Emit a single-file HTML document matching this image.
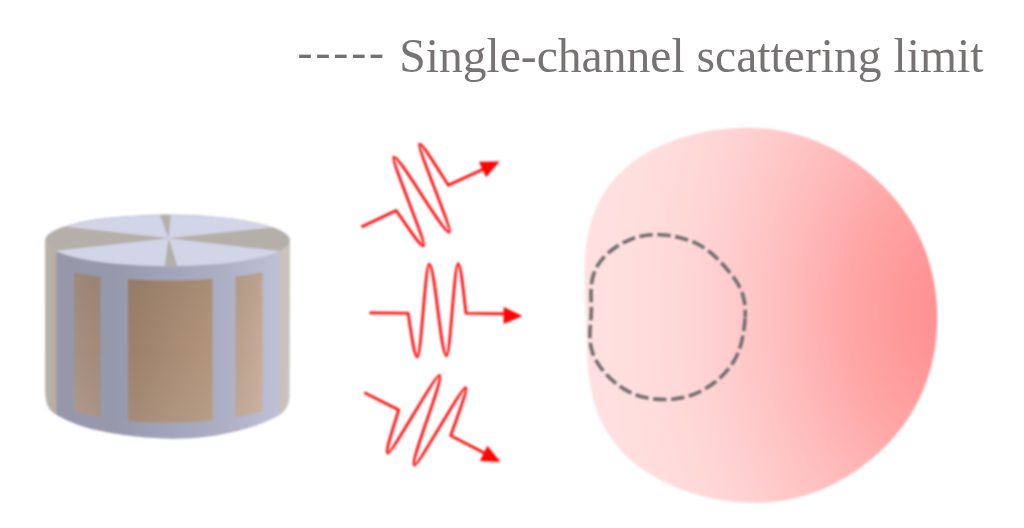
<!DOCTYPE html>
<html lang="en">
<head>
<meta charset="utf-8">
<title>Single-channel scattering limit</title>
<style>
html,body{margin:0;padding:0;background:#fff;}
body{width:1024px;height:528px;position:relative;overflow:hidden;font-family:"Liberation Serif","Times New Roman",serif;}
#fig{position:absolute;left:0;top:0;width:1024px;height:528px;display:block;filter:blur(0.9px);}
#legend{position:absolute;left:0;top:0;width:1024px;height:110px;color:#777373;white-space:nowrap;filter:blur(0.75px);}
#legend .dsh{position:absolute;left:297.5px;top:22.4px;font-size:45px;line-height:60px;letter-spacing:2.9px;color:#727070;}
#legend .txt{position:absolute;left:399.2px;top:25.6px;font-size:47.6px;line-height:60px;}
</style>
</head>
<body>
<svg id="fig" width="1024" height="528" viewBox="0 0 1024 528">
<defs>
<linearGradient id="lav" gradientUnits="userSpaceOnUse" x1="45" y1="0" x2="291" y2="0">
<stop offset="0.045" stop-color="#9698aa"/>
<stop offset="0.28" stop-color="#9699ac"/>
<stop offset="0.508" stop-color="#a2a4b9"/>
<stop offset="0.728" stop-color="#adafc4"/>
<stop offset="0.919" stop-color="#bcbed4"/>
<stop offset="0.976" stop-color="#c0c2d7"/>
</linearGradient>
<linearGradient id="tan" gradientUnits="userSpaceOnUse" x1="45" y1="0" x2="291" y2="0">
<stop offset="0.118" stop-color="#a59082"/>
<stop offset="0.171" stop-color="#a48c7d"/>
<stop offset="0.224" stop-color="#a38979"/>
<stop offset="0.337" stop-color="#9d816b"/>
<stop offset="0.386" stop-color="#9e826c"/>
<stop offset="0.508" stop-color="#a78a72"/>
<stop offset="0.638" stop-color="#af9279"/>
<stop offset="0.679" stop-color="#b1947b"/>
<stop offset="0.776" stop-color="#bba08b"/>
<stop offset="0.829" stop-color="#bfa591"/>
<stop offset="0.882" stop-color="#c5ac99"/>
</linearGradient>
<linearGradient id="stl" x1="0" y1="0" x2="1" y2="0">
<stop offset="0" stop-color="#b9b3ad"/>
<stop offset="0.5" stop-color="#b9afa6"/>
<stop offset="1" stop-color="#baaca2"/>
</linearGradient>
<linearGradient id="str" x1="0" y1="0" x2="1" y2="0">
<stop offset="0" stop-color="#cbc1b4"/>
<stop offset="0.6" stop-color="#cbc3b9"/>
<stop offset="1" stop-color="#cac5bf"/>
</linearGradient>
<linearGradient id="topg" gradientUnits="userSpaceOnUse" x1="45" y1="0" x2="291" y2="0">
<stop offset="0" stop-color="#d2d4e8"/>
<stop offset="1" stop-color="#d2d4e8"/>
</linearGradient>
<clipPath id="sideclip"><path d="M45.3,240 C45.3,250 45.28,280 45.3,300 C45.32,320 45.37,344.67 45.4,360 C45.43,375.33 45.38,385.54 45.5,392 C45.62,398.46 45.6,396.27 46.1,398.75 C46.6,401.23 46.85,404.29 48.5,406.9 C50.15,409.51 51.83,411.72 56,414.4 C60.17,417.08 68.5,420.82 73.5,423 C78.5,425.18 81.83,426.23 86,427.5 C90.17,428.77 94.33,429.68 98.5,430.6 C102.67,431.52 106.83,432.27 111,433 C115.17,433.73 119.33,434.43 123.5,435 C127.67,435.57 131.58,435.93 136,436.4 C140.42,436.87 144.33,437.41 150,437.8 C155.67,438.19 163.33,438.67 170,438.75 C176.67,438.83 185,438.51 190,438.3 C195,438.09 196.25,437.88 200,437.5 C203.75,437.12 208.33,436.62 212.5,436 C216.67,435.38 220.83,434.58 225,433.75 C229.17,432.92 233.33,432.04 237.5,431 C241.67,429.96 245.83,428.83 250,427.5 C254.17,426.17 258.33,424.67 262.5,423 C266.67,421.33 271.67,419.25 275,417.5 C278.33,415.75 280.5,414.38 282.5,412.5 C284.5,410.62 285.93,408.33 287,406.25 C288.07,404.17 288.5,402.29 288.9,400 C289.3,397.71 289.3,399.17 289.4,392.5 C289.5,385.83 289.45,375.42 289.5,360 C289.55,344.58 289.63,320 289.7,300 C289.77,280 289.87,250 289.9,240 A122.3,25.7 0 0 0 45.3,240.6 Z"/></clipPath>
<linearGradient id="pv" gradientUnits="userSpaceOnUse" x1="0" y1="275" x2="0" y2="422">
<stop offset="0" stop-color="#000" stop-opacity="0.05"/><stop offset="0.48" stop-color="#000" stop-opacity="0"/><stop offset="0.52" stop-color="#fff" stop-opacity="0"/><stop offset="1" stop-color="#fff" stop-opacity="0.09"/>
</linearGradient>
<clipPath id="topclip"><ellipse cx="167.6" cy="240.6" rx="122.3" ry="25.7"/></clipPath>
<radialGradient id="pink" gradientUnits="userSpaceOnUse" cx="0" cy="0" r="1" gradientTransform="translate(948,312) scale(380,545)">
<stop offset="0" stop-color="#ff8e8e"/>
<stop offset="0.06" stop-color="#ff9393"/>
<stop offset="0.13" stop-color="#ff9999"/>
<stop offset="0.258" stop-color="#ffa6a6"/>
<stop offset="0.37" stop-color="#ffb5b5"/>
<stop offset="0.495" stop-color="#ffc4c4"/>
<stop offset="0.65" stop-color="#ffd3d3"/>
<stop offset="0.795" stop-color="#ffdddd"/>
<stop offset="0.95" stop-color="#ffe0e0"/>
<stop offset="1" stop-color="#ffe1e1"/>
</radialGradient>
</defs>

<!-- cylinder -->
<g id="cylinder">
<path d="M45.3,240 C45.3,250 45.28,280 45.3,300 C45.32,320 45.37,344.67 45.4,360 C45.43,375.33 45.38,385.54 45.5,392 C45.62,398.46 45.6,396.27 46.1,398.75 C46.6,401.23 46.85,404.29 48.5,406.9 C50.15,409.51 51.83,411.72 56,414.4 C60.17,417.08 68.5,420.82 73.5,423 C78.5,425.18 81.83,426.23 86,427.5 C90.17,428.77 94.33,429.68 98.5,430.6 C102.67,431.52 106.83,432.27 111,433 C115.17,433.73 119.33,434.43 123.5,435 C127.67,435.57 131.58,435.93 136,436.4 C140.42,436.87 144.33,437.41 150,437.8 C155.67,438.19 163.33,438.67 170,438.75 C176.67,438.83 185,438.51 190,438.3 C195,438.09 196.25,437.88 200,437.5 C203.75,437.12 208.33,436.62 212.5,436 C216.67,435.38 220.83,434.58 225,433.75 C229.17,432.92 233.33,432.04 237.5,431 C241.67,429.96 245.83,428.83 250,427.5 C254.17,426.17 258.33,424.67 262.5,423 C266.67,421.33 271.67,419.25 275,417.5 C278.33,415.75 280.5,414.38 282.5,412.5 C284.5,410.62 285.93,408.33 287,406.25 C288.07,404.17 288.5,402.29 288.9,400 C289.3,397.71 289.3,399.17 289.4,392.5 C289.5,385.83 289.45,375.42 289.5,360 C289.55,344.58 289.63,320 289.7,300 C289.77,280 289.87,250 289.9,240 A122.3,25.7 0 0 0 45.3,240.6 Z" fill="url(#lav)"/>
<g clip-path="url(#sideclip)">
<path d="M45.3,238.6 L46.23,241.77 L47.17,243.07 L48.1,244.07 L49.03,244.9 L49.97,245.63 L50.9,246.29 L51.83,246.89 L52.77,247.44 L53.7,247.96 L54.63,248.45 L55.57,248.91 L56.5,249.34 L56.5,415.21 L55.57,414.64 L54.63,414.03 L53.7,413.38 L52.77,412.7 L51.83,411.96 L50.9,411.17 L49.97,410.3 L49.03,409.34 L48.1,408.23 L47.17,406.92 L46.23,405.19 L45.3,401Z" fill="url(#stl)"/>
<path d="M280.5,248.48 L281.28,248.08 L282.07,247.65 L282.85,247.2 L283.63,246.72 L284.42,246.21 L285.2,245.66 L285.98,245.05 L286.77,244.38 L287.55,243.61 L288.33,242.7 L289.12,241.5 L289.9,238.6 L289.9,401 L289.12,404.84 L288.33,406.42 L287.55,407.63 L286.77,408.65 L285.98,409.54 L285.2,410.34 L284.42,411.07 L283.63,411.74 L282.85,412.38 L282.07,412.97 L281.28,413.54 L280.5,414.07Z" fill="url(#str)"/>
<path d="M74,272.3 L76.21,272.78 L78.42,273.24 L80.62,273.67 L82.83,274.08 L85.04,274.47 L87.25,274.84 L89.46,275.19 L91.67,275.53 L93.88,275.85 L96.08,276.16 L98.29,276.45 L100.5,276.73 L100.5,417.42 L98.29,417.04 L96.08,416.65 L93.88,416.23 L91.67,415.8 L89.46,415.35 L87.25,414.87 L85.04,414.37 L82.83,413.85 L80.62,413.29 L78.42,412.71 L76.21,412.1 L74,411.45Z" fill="url(#tan)"/>
<path d="M128,279.26 L135.04,279.67 L142.08,279.99 L149.12,280.24 L156.17,280.4 L163.21,280.49 L170.25,280.49 L177.29,280.43 L184.33,280.28 L191.38,280.06 L198.42,279.76 L205.46,279.37 L212.5,278.89 L212.5,420.34 L205.46,420.98 L198.42,421.5 L191.38,421.91 L184.33,422.21 L177.29,422.4 L170.25,422.49 L163.21,422.48 L156.17,422.36 L149.12,422.14 L142.08,421.82 L135.04,421.38 L128,420.83Z" fill="url(#tan)"/>
<path d="M235.5,276.63 L237.75,276.34 L240,276.04 L242.25,275.72 L244.5,275.38 L246.75,275.03 L249,274.67 L251.25,274.28 L253.5,273.87 L255.75,273.44 L258,272.99 L260.25,272.51 L262.5,272.01 L262.5,411.05 L260.25,411.74 L258,412.38 L255.75,412.99 L253.5,413.57 L251.25,414.11 L249,414.64 L246.75,415.13 L244.5,415.61 L242.25,416.06 L240,416.48 L237.75,416.89 L235.5,417.28Z" fill="url(#tan)"/>
<path d="M74,272.3 L76.21,272.78 L78.42,273.24 L80.62,273.67 L82.83,274.08 L85.04,274.47 L87.25,274.84 L89.46,275.19 L91.67,275.53 L93.88,275.85 L96.08,276.16 L98.29,276.45 L100.5,276.73 L100.5,417.42 L98.29,417.04 L96.08,416.65 L93.88,416.23 L91.67,415.8 L89.46,415.35 L87.25,414.87 L85.04,414.37 L82.83,413.85 L80.62,413.29 L78.42,412.71 L76.21,412.1 L74,411.45Z M128,279.26 L135.04,279.67 L142.08,279.99 L149.12,280.24 L156.17,280.4 L163.21,280.49 L170.25,280.49 L177.29,280.43 L184.33,280.28 L191.38,280.06 L198.42,279.76 L205.46,279.37 L212.5,278.89 L212.5,420.34 L205.46,420.98 L198.42,421.5 L191.38,421.91 L184.33,422.21 L177.29,422.4 L170.25,422.49 L163.21,422.48 L156.17,422.36 L149.12,422.14 L142.08,421.82 L135.04,421.38 L128,420.83Z M235.5,276.63 L237.75,276.34 L240,276.04 L242.25,275.72 L244.5,275.38 L246.75,275.03 L249,274.67 L251.25,274.28 L253.5,273.87 L255.75,273.44 L258,272.99 L260.25,272.51 L262.5,272.01 L262.5,411.05 L260.25,411.74 L258,412.38 L255.75,412.99 L253.5,413.57 L251.25,414.11 L249,414.64 L246.75,415.13 L244.5,415.61 L242.25,416.06 L240,416.48 L237.75,416.89 L235.5,417.28Z" fill="url(#pv)"/>
</g>
<ellipse cx="167.6" cy="240.6" rx="122.3" ry="25.7" fill="url(#topg)"/>
<g clip-path="url(#topclip)" fill="#b4afa9">
<path d="M168.7,238.3 L159.3,213 L170.7,213 Z"/>
<path d="M168.7,238.3 L164.6,267 L177.6,267 Z"/>
<path d="M168.7,238.3 L40,223.9 L40,252.6 Z"/>
<path d="M168.7,238.3 L296,225 L296,253 Z"/>
</g>
</g>

<!-- arrows -->
<g id="arrows">
<g transform="translate(430.7,194.8) rotate(-25.4)"><path d="M-76.5,-0.6 L-37.9,-0.6 C-33.58,26.49 -31.15,43.1 -28.3,43.1 C-24.65,43.1 -20.9,-49.9 -17.25,-49.9 C-11.26,-49.9 -5.09,41.8 0.9,41.8 C4.46,41.8 8.14,-50.7 11.7,-50.7 C14.17,-50.7 16.27,-31.81 20,-1 L59,-0.6" fill="none" stroke="#ff0a0a" stroke-width="2.7" stroke-linejoin="round" stroke-linecap="butt"/><path d="M57.6,-7.4 L76.6,1.3 L57.6,9.5 Z" fill="#fb0505" transform="translate(0,-1.7)"/></g>
<g transform="translate(446,314.1) rotate(0.4)"><path d="M-76.5,-0.6 L-37.9,-0.6 C-33.58,26.49 -31.15,43.1 -28.3,43.1 C-24.65,43.1 -20.9,-49.9 -17.25,-49.9 C-11.26,-49.9 -5.09,41.8 0.9,41.8 C4.46,41.8 8.14,-50.7 11.7,-50.7 C14.17,-50.7 16.27,-31.81 20,-1 L59,-0.6" fill="none" stroke="#ff0a0a" stroke-width="2.7" stroke-linejoin="round" stroke-linecap="butt"/><path d="M57.6,-7.4 L76.6,1.3 L57.6,9.5 Z" fill="#fb0505" transform="translate(0,0)"/></g>
<g transform="translate(432.4,427.5) rotate(26.7)"><path d="M-76.5,-0.6 L-37.9,-0.6 C-33.58,26.49 -31.15,43.1 -28.3,43.1 C-24.65,43.1 -20.9,-49.9 -17.25,-49.9 C-11.26,-49.9 -5.09,41.8 0.9,41.8 C4.46,41.8 8.14,-50.7 11.7,-50.7 C14.17,-50.7 16.27,-31.81 20,-1 L59,-0.6" fill="none" stroke="#ff0a0a" stroke-width="2.7" stroke-linejoin="round" stroke-linecap="butt"/><path d="M57.6,-7.4 L76.6,1.3 L57.6,9.5 Z" fill="#fb0505" transform="translate(-0.2,-1)"/></g>
</g>

<!-- scattering pattern -->
<g id="pattern">
<path d="M937.15,315 C937.21,319.12 937.15,323.25 936.96,327.37 C936.77,331.5 936.45,335.62 935.99,339.73 C935.54,343.84 934.96,347.95 934.24,352.04 C933.52,356.12 932.67,360.19 931.67,364.23 C930.68,368.26 929.54,372.28 928.27,376.24 C926.99,380.21 925.57,384.15 924,388.02 C922.44,391.89 920.73,395.72 918.89,399.48 C917.04,403.24 915.05,406.94 912.94,410.57 C910.82,414.19 908.56,417.74 906.18,421.21 C903.81,424.67 901.29,428.07 898.68,431.36 C896.06,434.66 893.31,437.87 890.47,440.99 C887.62,444.11 884.66,447.14 881.61,450.07 C878.56,452.99 875.41,455.83 872.16,458.56 C868.92,461.3 865.58,463.94 862.16,466.46 C858.74,468.99 855.23,471.42 851.64,473.73 C848.05,476.03 844.38,478.24 840.63,480.31 C836.88,482.38 833.05,484.34 829.15,486.16 C825.26,487.98 821.29,489.68 817.26,491.22 C813.23,492.76 809.13,494.17 804.98,495.41 C800.84,496.66 796.63,497.76 792.39,498.69 C788.15,499.63 783.86,500.41 779.55,501.02 C775.24,501.64 770.9,502.09 766.54,502.39 C762.19,502.69 757.81,502.83 753.44,502.81 C749.07,502.8 744.68,502.63 740.31,502.32 C735.94,502.01 731.57,501.54 727.21,500.95 C722.86,500.36 718.51,499.62 714.19,498.75 C709.86,497.88 705.55,496.88 701.27,495.75 C696.99,494.61 692.73,493.35 688.51,491.94 C684.29,490.54 680.09,489 675.96,487.32 C671.82,485.63 667.71,483.8 663.69,481.81 C659.67,479.81 655.7,477.67 651.84,475.36 C647.98,473.04 644.19,470.56 640.55,467.89 C636.91,465.23 633.36,462.4 630,459.38 C626.64,456.37 623.4,453.18 620.38,449.83 C617.37,446.47 614.51,442.94 611.9,439.27 C609.28,435.61 606.86,431.77 604.68,427.85 C602.5,423.92 600.54,419.84 598.82,415.72 C597.09,411.59 595.6,407.35 594.31,403.1 C593.02,398.85 591.97,394.52 591.07,390.21 C590.18,385.91 589.5,381.56 588.93,377.26 C588.36,372.97 587.98,368.67 587.65,364.42 C587.32,360.17 587.13,355.96 586.94,351.78 C586.76,347.61 586.67,343.48 586.55,339.38 C586.44,335.27 586.36,331.21 586.25,327.15 C586.14,323.09 586.03,319.06 585.9,315 C585.76,310.94 585.6,306.89 585.44,302.79 C585.29,298.69 585.1,294.58 584.96,290.4 C584.82,286.22 584.67,282 584.62,277.72 C584.58,273.44 584.55,269.1 584.68,264.73 C584.82,260.35 585.02,255.91 585.43,251.46 C585.84,247.01 586.38,242.51 587.16,238.05 C587.95,233.58 588.91,229.09 590.14,224.68 C591.36,220.27 592.81,215.87 594.53,211.6 C596.24,207.33 598.21,203.11 600.43,199.07 C602.65,195.02 605.13,191.07 607.83,187.32 C610.53,183.56 613.5,179.95 616.63,176.55 C619.77,173.15 623.15,169.92 626.66,166.91 C630.17,163.89 633.88,161.07 637.69,158.45 C641.5,155.83 645.47,153.42 649.5,151.18 C653.54,148.95 657.69,146.92 661.88,145.06 C666.07,143.19 670.35,141.51 674.64,139.98 C678.93,138.45 683.28,137.1 687.63,135.88 C691.98,134.66 696.37,133.59 700.75,132.66 C705.14,131.72 709.54,130.93 713.94,130.26 C718.34,129.6 722.75,129.07 727.15,128.67 C731.54,128.28 735.95,128.01 740.33,127.89 C744.72,127.76 749.11,127.77 753.47,127.93 C757.83,128.08 762.18,128.38 766.5,128.83 C770.82,129.27 775.12,129.87 779.38,130.61 C783.64,131.35 787.87,132.24 792.04,133.28 C796.22,134.32 800.35,135.51 804.42,136.83 C808.49,138.16 812.51,139.63 816.46,141.23 C820.41,142.82 824.3,144.56 828.11,146.42 C831.92,148.27 835.67,150.25 839.34,152.34 C843,154.42 846.59,156.63 850.11,158.93 C853.62,161.23 857.05,163.64 860.4,166.15 C863.75,168.65 867.03,171.25 870.21,173.94 C873.39,176.63 876.49,179.41 879.5,182.28 C882.5,185.15 885.42,188.12 888.24,191.16 C891.05,194.21 893.78,197.34 896.39,200.55 C899,203.77 901.51,207.07 903.9,210.45 C906.29,213.83 908.57,217.29 910.72,220.82 C912.87,224.35 914.9,227.96 916.8,231.63 C918.69,235.3 920.46,239.04 922.1,242.83 C923.73,246.62 925.23,250.47 926.59,254.36 C927.96,258.26 929.19,262.2 930.28,266.17 C931.38,270.14 932.34,274.16 933.17,278.19 C934,282.22 934.69,286.29 935.26,290.37 C935.83,294.44 936.27,298.55 936.59,302.65 C936.9,306.76 937.09,310.88 937.15,315Z" fill="url(#pink)"/>
<path d="M745.13,317 C745.04,319.27 744.84,321.53 744.62,323.79 C744.39,326.05 744.1,328.29 743.77,330.54 C743.43,332.78 743.06,335.02 742.6,337.26 C742.15,339.49 741.65,341.73 741.03,343.95 C740.42,346.16 739.73,348.37 738.92,350.54 C738.11,352.7 737.19,354.85 736.15,356.93 C735.12,359 733.96,361.04 732.7,363 C731.44,364.96 730.06,366.86 728.6,368.69 C727.15,370.52 725.58,372.27 723.96,373.96 C722.34,375.65 720.64,377.27 718.88,378.83 C717.12,380.38 715.3,381.87 713.42,383.29 C711.54,384.71 709.6,386.07 707.61,387.33 C705.61,388.6 703.56,389.8 701.45,390.89 C699.35,391.97 697.18,392.98 694.98,393.86 C692.77,394.75 690.51,395.53 688.22,396.2 C685.94,396.87 683.6,397.42 681.26,397.87 C678.92,398.33 676.54,398.67 674.17,398.93 C671.79,399.19 669.4,399.34 667,399.42 C664.6,399.49 662.2,399.48 659.79,399.37 C657.39,399.27 654.98,399.08 652.58,398.79 C650.18,398.49 647.78,398.1 645.41,397.58 C643.04,397.06 640.67,396.44 638.36,395.68 C636.05,394.92 633.77,394.03 631.55,393.03 C629.33,392.02 627.16,390.88 625.06,389.64 C622.96,388.41 620.92,387.05 618.95,385.62 C616.98,384.19 615.08,382.65 613.25,381.06 C611.41,379.47 609.63,377.8 607.93,376.07 C606.23,374.33 604.59,372.54 603.05,370.66 C601.51,368.79 600.02,366.85 598.69,364.83 C597.36,362.81 596.11,360.71 595.04,358.55 C593.98,356.38 593.04,354.12 592.3,351.83 C591.56,349.54 591,347.17 590.6,344.81 C590.2,342.44 590.01,340.03 589.92,337.65 C589.82,335.28 589.92,332.9 590.02,330.57 C590.12,328.25 590.36,325.95 590.54,323.69 C590.72,321.43 590.94,319.22 591.07,317 C591.21,314.78 591.3,312.61 591.33,310.38 C591.36,308.15 591.3,305.93 591.26,303.64 C591.21,301.36 591.07,299.03 591.04,296.65 C591.01,294.27 590.95,291.82 591.08,289.37 C591.2,286.91 591.39,284.4 591.8,281.93 C592.21,279.47 592.77,276.98 593.55,274.59 C594.33,272.21 595.31,269.84 596.47,267.62 C597.63,265.39 599.02,263.24 600.52,261.22 C602.03,259.2 603.73,257.29 605.51,255.51 C607.28,253.72 609.21,252.05 611.19,250.49 C613.16,248.92 615.25,247.47 617.37,246.12 C619.49,244.77 621.69,243.52 623.92,242.38 C626.15,241.25 628.45,240.21 630.77,239.31 C633.1,238.41 635.48,237.62 637.87,236.97 C640.27,236.33 642.71,235.81 645.14,235.43 C647.58,235.05 650.04,234.82 652.49,234.69 C654.93,234.57 657.38,234.59 659.8,234.69 C662.22,234.79 664.62,235.01 667,235.29 C669.38,235.58 671.73,235.95 674.05,236.39 C676.38,236.83 678.68,237.34 680.94,237.93 C683.21,238.52 685.45,239.17 687.65,239.92 C689.85,240.67 692.03,241.5 694.14,242.43 C696.25,243.36 698.33,244.4 700.33,245.53 C702.33,246.66 704.27,247.9 706.14,249.21 C708,250.52 709.8,251.94 711.53,253.4 C713.27,254.86 714.92,256.4 716.54,257.96 C718.16,259.52 719.72,261.12 721.25,262.75 C722.79,264.37 724.29,266.01 725.76,267.69 C727.24,269.37 728.69,271.06 730.1,272.82 C731.51,274.57 732.91,276.34 734.21,278.2 C735.51,280.05 736.77,281.96 737.9,283.94 C739.03,285.92 740.08,287.97 740.97,290.08 C741.86,292.18 742.63,294.37 743.23,296.57 C743.84,298.78 744.29,301.05 744.62,303.31 C744.95,305.58 745.11,307.88 745.2,310.16 C745.28,312.44 745.23,314.73 745.13,317Z" fill="none" stroke="#706d6d" stroke-width="3.6" stroke-dasharray="13.4 4.6" stroke-dashoffset="-0.75"/>
</g>
</svg>
<div id="legend"><span class="dsh">-----</span> <span class="txt">Single-channel scattering limit</span></div>
</body>
</html>
